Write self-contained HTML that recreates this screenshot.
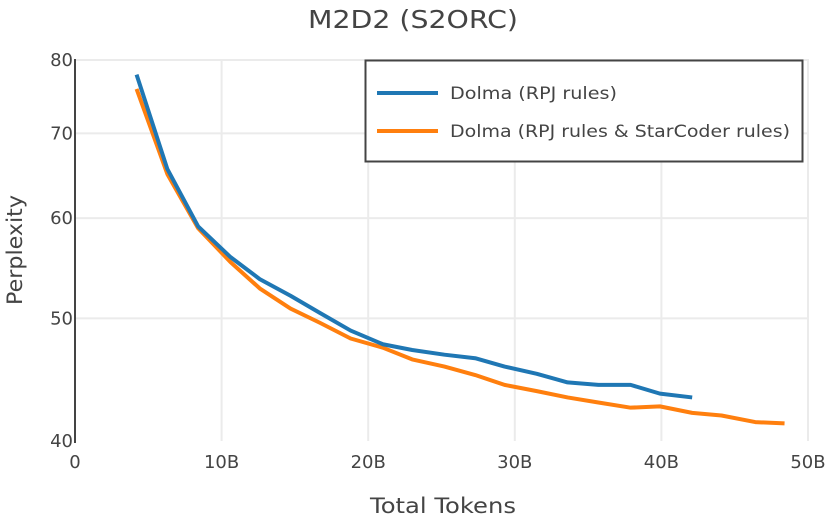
<!DOCTYPE html>
<html><head><meta charset="utf-8">
<style>
body{margin:0;background:#fff;}
svg text{font-family:"DejaVu Sans","Liberation Sans",sans-serif;fill:#444;}
</style></head>
<body>
<svg id="chart" width="830" height="520" xmlns="http://www.w3.org/2000/svg">
<text x="413" y="28" font-size="25" text-anchor="middle" textLength="210" lengthAdjust="spacingAndGlyphs">M2D2 (S2ORC)</text>
<g id="grid"></g>
<g id="ticks"></g>
<line x1="75" y1="59" x2="75" y2="443" stroke="#444" stroke-width="2"/>
<g id="series"></g>
<text x="443" y="513" font-size="21" text-anchor="middle" textLength="146" lengthAdjust="spacingAndGlyphs">Total Tokens</text>
<text x="0" y="0" font-size="21" text-anchor="middle" transform="translate(22,250) rotate(-90)" textLength="110" lengthAdjust="spacingAndGlyphs">Perplexity</text>
<g>
<rect x="365.5" y="60.5" width="437" height="101" fill="#fff" stroke="#444" stroke-width="2"/>
<line x1="377" y1="93" x2="438" y2="93" stroke="#1f77b4" stroke-width="4"/>
<text x="450" y="99" font-size="17" textLength="167" lengthAdjust="spacingAndGlyphs">Dolma (RPJ rules)</text>
<line x1="377" y1="131" x2="438" y2="131" stroke="#ff7f0e" stroke-width="4"/>
<text x="450" y="137" font-size="17" textLength="340" lengthAdjust="spacingAndGlyphs">Dolma (RPJ rules &amp; StarCoder rules)</text>
</g>
</svg>
<script>
const xTicks=[0,10,20,30,40,50];
const xTickLabels=["0","10B","20B","30B","40B","50B"];
const yTicks=[40,50,60,70,80];
const blueX=[4.2,6.3,8.4,10.6,12.6,14.7,16.7,18.8,21.0,23.0,25.2,27.3,29.3,31.5,33.6,35.7,37.9,39.9,42.1];
const blueY=[77.9,65.6,59.1,55.9,53.7,52.1,50.5,48.9,47.7,47.2,46.8,46.5,45.8,45.2,44.5,44.3,44.3,43.6,43.3];
const orangeX=[4.2,6.3,8.4,10.6,12.6,14.7,16.7,18.8,21.0,23.0,25.2,27.3,29.3,31.5,33.6,35.7,37.9,39.9,42.1,44.1,46.4,48.4];
const orangeY=[75.9,65.0,58.9,55.4,52.8,50.9,49.6,48.2,47.4,46.4,45.8,45.1,44.3,43.8,43.3,42.9,42.5,42.6,42.1,41.9,41.4,41.3];
const NS="http://www.w3.org/2000/svg";
const xs=v=>75+v*(733/50);
const ys=v=>441-Math.log2(v/40)*381;
const grid=document.getElementById('grid'),ticks=document.getElementById('ticks'),series=document.getElementById('series');
function mk(tag,attrs,parent){const e=document.createElementNS(NS,tag);for(const k in attrs)e.setAttribute(k,attrs[k]);parent.appendChild(e);return e;}
xTicks.forEach((t,i)=>{
  if(t>0){const g=mk('line',{x1:xs(t),x2:xs(t),y1:59,y2:441,stroke:'#ebebeb','stroke-width':2},grid);
  
  }
  const tx=mk('text',{x:xs(t),y:468,'font-size':18,'text-anchor':'middle'},ticks);tx.textContent=xTickLabels[i];
  
  
});
yTicks.forEach(t=>{
  if(t>40){const g=mk('line',{x1:75,x2:808,y1:ys(t),y2:ys(t),stroke:'#ebebeb','stroke-width':2},grid);
  
  }
  const tx=mk('text',{x:73,y:ys(t)+6,'font-size':18,'text-anchor':'end'},ticks);tx.textContent=t;
  
  
});
function line(X,Y,c,name){
  const p=mk('polyline',{points:X.map((x,i)=>xs(x)+','+ys(Y[i])).join(' '),fill:'none',stroke:c,'stroke-width':4,'stroke-linejoin':'round'},series);
  
  
}
line(orangeX,orangeY,'#ff7f0e','line-rpj-starcoder');
line(blueX,blueY,'#1f77b4','line-rpj');
</script>
</body></html>
